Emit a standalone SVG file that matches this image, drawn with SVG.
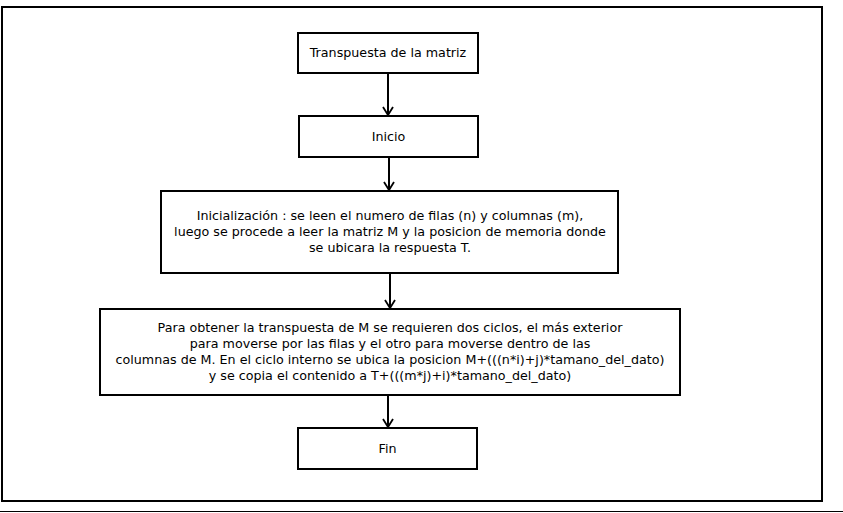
<svg xmlns="http://www.w3.org/2000/svg" width="843" height="513" viewBox="0 0 843 513">
<defs>
<style>
.box{fill:#fff;stroke:#000;stroke-width:2}
.t{font-family:"DejaVu Sans",sans-serif;font-size:12.7px;fill:#000;text-anchor:middle}
.c{stroke:#000;stroke-width:2;fill:none}
</style>
<marker id="arr" markerWidth="12" markerHeight="12" refX="10" refY="6" orient="auto" markerUnits="userSpaceOnUse">
<path d="M2,1 L10,6 L2,11" fill="none" stroke="#000" stroke-width="1.8"/>
</marker>
</defs>
<rect width="843" height="513" fill="#fff"/>
<rect x="2" y="7" width="820" height="494" fill="none" stroke="#000" stroke-width="2"/>
<line x1="0" y1="511.5" x2="843" y2="511.5" stroke="#000" stroke-width="1"/>
<g id="connectors">
<line class="c" x1="388" y1="73" x2="388" y2="115" marker-end="url(#arr)"/>
<line class="c" x1="389" y1="157" x2="389" y2="190" marker-end="url(#arr)"/>
<line class="c" x1="390" y1="273" x2="390" y2="308" marker-end="url(#arr)"/>
<line class="c" x1="388" y1="395" x2="388" y2="427" marker-end="url(#arr)"/>
</g>
<g id="n1">
<rect class="box" x="298" y="33" width="180" height="40"/>
<text class="t" x="388" y="57">Transpuesta de la matriz</text>
</g>
<g id="n2">
<rect class="box" x="299" y="116" width="179" height="41"/>
<text class="t" x="388.5" y="141">Inicio</text>
</g>
<g id="n3">
<rect class="box" x="161" y="191" width="457" height="82"/>
<text class="t" x="390" y="220">Inicialización : se leen el numero de filas (n) y columnas (m),</text>
<text class="t" x="390" y="236">luego se procede a leer la matriz M y la posicion de memoria donde</text>
<text class="t" x="390" y="252">se ubicara la respuesta T.</text>
</g>
<g id="n4">
<rect class="box" x="100" y="309" width="580" height="86"/>
<text class="t" x="390" y="332">Para obtener la transpuesta de M se requieren dos ciclos, el más exterior</text>
<text class="t" x="390" y="348">para moverse por las filas y el otro para moverse dentro de las</text>
<text class="t" x="390" y="364">columnas de M. En el ciclo interno se ubica la posicion M+(((n*i)+j)*tamano_del_dato)</text>
<text class="t" x="390" y="380">y se copia el contenido a T+(((m*j)+i)*tamano_del_dato)</text>
</g>
<g id="n5">
<rect class="box" x="298" y="428" width="179" height="41"/>
<text class="t" x="387.5" y="453">Fin</text>
</g>
</svg>
